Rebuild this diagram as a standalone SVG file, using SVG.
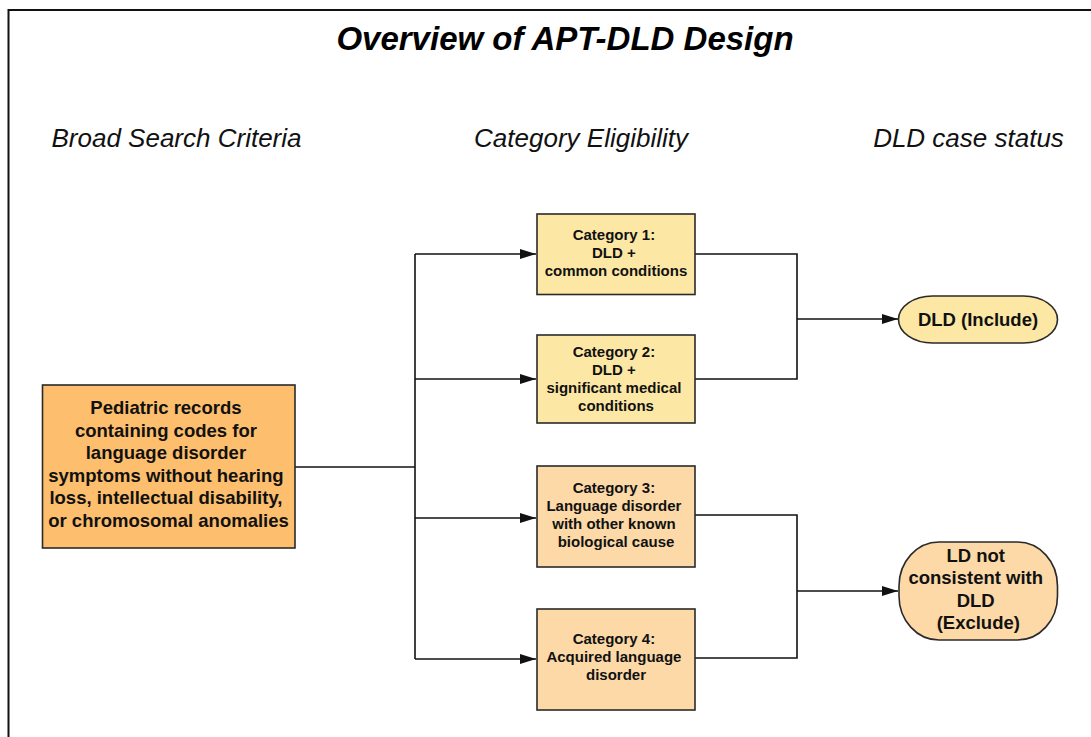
<svg xmlns="http://www.w3.org/2000/svg" width="1091" height="737" viewBox="0 0 1091 737">
  <style>
    .title { font-family: "Liberation Sans", Arial, sans-serif; font-weight: bold; font-style: italic; font-size: 33px; fill: #000; }
    .head { font-family: "Liberation Sans", Arial, sans-serif; font-style: italic; font-size: 26px; fill: #111; }
    .box { stroke: #2a2a2a; stroke-width: 1.6; }
    .src { fill: #FDBE6D; }
    .yel { fill: #FCE8A4; }
    .pch { fill: #FCD9A7; }
    .lbl { font-family: "Liberation Sans", Arial, sans-serif; font-weight: bold; fill: #111; text-anchor: middle; }
    .big { font-size: 18.5px; }
    .small { font-size: 15px; }
    .wire { fill: none; stroke: #111; stroke-width: 1.6; }
  </style>
  <defs>
    <marker id="arrow" markerWidth="17" markerHeight="11" refX="16" refY="5.5" orient="auto" markerUnits="userSpaceOnUse">
      <path d="M0,0.5 L16,5.5 L0,10.5 Z" fill="#111"/>
    </marker>
  </defs>

  <rect x="0" y="0" width="1091" height="737" fill="#fff"/>
  <!-- outer frame -->
  <rect x="8.5" y="10" width="1100" height="760" fill="none" stroke="#111" stroke-width="2"/>

  <text class="title" x="565" y="50" text-anchor="middle">Overview of APT-DLD Design</text>
  <text class="head" x="176.5" y="147" text-anchor="middle">Broad Search Criteria</text>
  <text class="head" x="581" y="147" text-anchor="middle">Category Eligibility</text>
  <text class="head" x="968.5" y="147" text-anchor="middle">DLD case status</text>

  <!-- connectors -->
  <g id="connectors">
    <path class="wire" d="M295,467 H415"/>
    <path class="wire" d="M415,254 V659"/>
    <path class="wire" d="M415,254 H536" marker-end="url(#arrow)"/>
    <path class="wire" d="M415,379 H536" marker-end="url(#arrow)"/>
    <path class="wire" d="M415,518 H536" marker-end="url(#arrow)"/>
    <path class="wire" d="M415,659 H536" marker-end="url(#arrow)"/>
    <path class="wire" d="M695,254 H797 V379 H695"/>
    <path class="wire" d="M797,319 H898" marker-end="url(#arrow)"/>
    <path class="wire" d="M695,515 H797 V658 H695"/>
    <path class="wire" d="M797,591 H898" marker-end="url(#arrow)"/>
  </g>

  <g id="source">
    <rect class="box src" x="42.5" y="385" width="252.5" height="163"/>
    <text class="lbl big">
      <tspan x="168.5" y="414">Pediatric records</tspan>
      <tspan x="168.5" y="436.5">containing codes for</tspan>
      <tspan x="168.5" y="459">language disorder</tspan>
      <tspan x="168.5" y="481.5">symptoms without hearing</tspan>
      <tspan x="168.5" y="504">loss, intellectual disability,</tspan>
      <tspan x="168.5" y="526.5">or chromosomal anomalies</tspan>
    </text>
  </g>

  <g id="category1">
    <rect class="box yel" x="537" y="214" width="158" height="80.5"/>
    <text class="lbl small">
      <tspan x="616" y="239.5">Category 1:</tspan>
      <tspan x="616" y="257.5">DLD +</tspan>
      <tspan x="616" y="275.5">common conditions</tspan>
    </text>
  </g>

  <g id="category2">
    <rect class="box yel" x="537" y="335" width="158" height="88"/>
    <text class="lbl small">
      <tspan x="616" y="356.5">Category 2:</tspan>
      <tspan x="616" y="374.5">DLD +</tspan>
      <tspan x="616" y="392.5">significant medical</tspan>
      <tspan x="616" y="410.5">conditions</tspan>
    </text>
  </g>

  <g id="category3">
    <rect class="box pch" x="537" y="466" width="158" height="101"/>
    <text class="lbl small">
      <tspan x="616" y="492.5">Category 3:</tspan>
      <tspan x="616" y="510.5">Language disorder</tspan>
      <tspan x="616" y="528.5">with other known</tspan>
      <tspan x="616" y="546.5">biological cause</tspan>
    </text>
  </g>

  <g id="category4">
    <rect class="box pch" x="537" y="609" width="158" height="101"/>
    <text class="lbl small">
      <tspan x="616" y="644">Category 4:</tspan>
      <tspan x="616" y="662">Acquired language</tspan>
      <tspan x="616" y="680">disorder</tspan>
    </text>
  </g>

  <g id="include">
    <rect class="box yel" x="898.5" y="296" width="159" height="47" rx="34" ry="23.5"/>
    <text class="lbl big" x="978" y="325.5">DLD (Include)</text>
  </g>

  <g id="exclude">
    <rect class="box pch" x="899" y="542" width="158.5" height="98" rx="40" ry="44"/>
    <text class="lbl big">
      <tspan x="978.3" y="561.5">LD not</tspan>
      <tspan x="978.3" y="584">consistent with</tspan>
      <tspan x="978.3" y="606.5">DLD</tspan>
      <tspan x="978.3" y="629">(Exclude)</tspan>
    </text>
  </g>
</svg>
